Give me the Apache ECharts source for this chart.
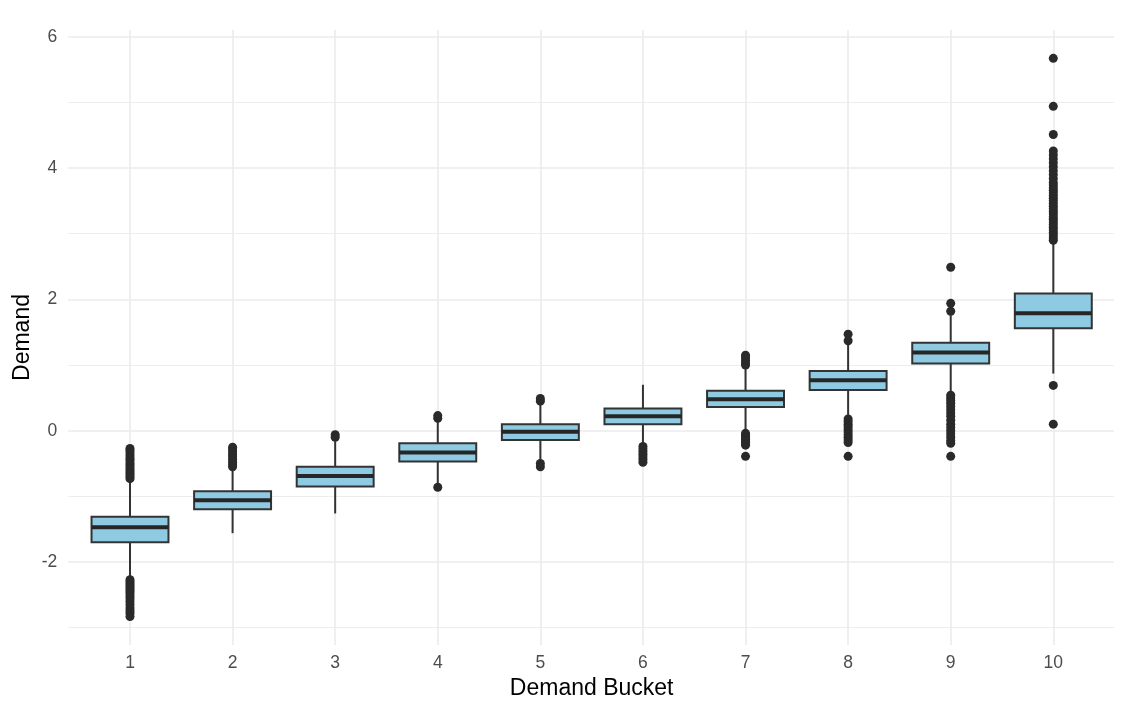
<!DOCTYPE html>
<html><head><meta charset="utf-8">
<script src="https://cdn.jsdelivr.net/npm/echarts@6.0.0/dist/echarts.min.js"></script>
<style>html,body{margin:0;padding:0;background:#fff}#c{width:1139px;height:718px}</style>
</head><body><div id="c"></div>
<script>
const categories = ['1', '2', '3', '4', '5', '6', '7', '8', '9', '10'];
const whiskerLow  = [-2.24, -1.56, -1.26, -0.80, -0.46, -0.21, -0.01, 0.20, 0.58, 0.87];
const q1Values    = [-1.70, -1.195, -0.85, -0.47, -0.14, 0.10, 0.36, 0.62, 1.025, 1.56];
const medians     = [-1.47, -1.06, -0.69, -0.33, -0.015, 0.22, 0.48, 0.77, 1.19, 1.79];
const q3Values    = [-1.31, -0.92, -0.55, -0.19, 0.10, 0.34, 0.61, 0.91, 1.34, 2.09];
const whiskerHigh = [-0.75, -0.58, -0.16, 0.14, 0.41, 0.70, 0.96, 1.32, 1.76, 2.86];
const outliers = [
  [-0.27, -0.30, -0.34, -0.38, -0.42, -0.45, -0.49, -0.52, -0.55, -0.58, -0.61, -0.64, -0.67, -0.70, -0.73,
   -2.27, -2.30, -2.33, -2.36, -2.39, -2.42, -2.45, -2.48, -2.52, -2.56, -2.60, -2.65, -2.70, -2.74, -2.78, -2.83],
  [-0.25, -0.28, -0.32, -0.36, -0.40, -0.44, -0.48, -0.52, -0.55],
  [-0.06, -0.10],
  [0.19, 0.23, -0.86],
  [0.45, 0.49, -0.50, -0.55],
  [-0.24, -0.28, -0.32, -0.36, -0.40, -0.44, -0.48],
  [1.00, 1.03, 1.07, 1.11, 1.15, -0.04, -0.07, -0.10, -0.13, -0.16, -0.19, -0.22, -0.39],
  [1.37, 1.47, 0.18, 0.14, 0.10, 0.06, 0.02, -0.02, -0.06, -0.10, -0.14, -0.18, -0.39],
  [1.82, 1.94, 2.49, 0.54, 0.50, 0.46, 0.42, 0.37, 0.32, 0.27, 0.22, 0.16, 0.10, 0.05, 0.00, -0.05, -0.10, -0.15, -0.19, -0.39],
  [2.90, 2.94, 2.98, 3.02, 3.06, 3.10, 3.14, 3.18, 3.22, 3.26, 3.30, 3.34, 3.38, 3.42, 3.46, 3.50, 3.54, 3.58,
   3.62, 3.66, 3.70, 3.74, 3.78, 3.84, 3.90, 3.96, 4.02, 4.08, 4.14, 4.20, 4.26, 4.51, 4.94, 5.67, 0.69, 0.10]
];

const boxData = categories.map((c, i) => [i, whiskerLow[i], q1Values[i], medians[i], q3Values[i], whiskerHigh[i]]);
const outlierData = [];
outliers.forEach((arr, i) => arr.forEach(v => outlierData.push([i, v])));

const FONT = '"Liberation Sans", Arial, Helvetica, sans-serif';
const INK = '#333333';
const FILL = '#8ecae2';
const GRID = '#ebebeb';

function renderBox(params, api) {
  const x = api.value(0);
  const pMin = api.coord([x, api.value(1)]);
  const pQ1 = api.coord([x, api.value(2)]);
  const pMed = api.coord([x, api.value(3)]);
  const pQ3 = api.coord([x, api.value(4)]);
  const pMax = api.coord([x, api.value(5)]);
  const bw = api.size([1, 0])[0] * 0.75;
  const cx = pMed[0];
  return {
    type: 'group',
    children: [
      { type: 'line', shape: { x1: cx, y1: pMax[1], x2: cx, y2: pQ3[1] }, style: { stroke: INK, lineWidth: 2 } },
      { type: 'line', shape: { x1: cx, y1: pQ1[1], x2: cx, y2: pMin[1] }, style: { stroke: INK, lineWidth: 2 } },
      { type: 'rect', shape: { x: cx - bw / 2, y: pQ3[1], width: bw, height: pQ1[1] - pQ3[1] },
        style: { fill: FILL, stroke: INK, lineWidth: 2 } },
      { type: 'line', shape: { x1: cx - bw / 2, y1: pMed[1], x2: cx + bw / 2, y2: pMed[1] },
        style: { stroke: '#262626', lineWidth: 4 } }
    ]
  };
}

const chart = echarts.init(document.getElementById('c'), null, { renderer: 'canvas' });
chart.setOption({
  animation: false,
  backgroundColor: '#ffffff',
  grid: [
    { left: 68.3, right: 25, top: 36.7, height: 656.7 },
    { left: 130, right: 1139 - 1053.3, top: 30, height: 615 }
  ],
  xAxis: [
    { gridIndex: 0, type: 'value', show: false, min: 0, max: 1 },
    { gridIndex: 1, type: 'category', data: categories, boundaryGap: false,
      axisLine: { show: false }, axisTick: { show: false },
      axisLabel: { interval: 0, margin: 9, color: '#4d4d4d', fontSize: 17.5, fontFamily: FONT },
      splitLine: { show: true, lineStyle: { color: GRID, width: 1.6 } },
      name: 'Demand Bucket', nameLocation: 'middle', nameGap: 32,
      nameTextStyle: { color: '#000', fontSize: 23, fontFamily: FONT } }
  ],
  yAxis: [
    { gridIndex: 0, type: 'value', min: -4, max: 6, interval: 2,
      axisLine: { show: false }, axisTick: { show: false },
      axisLabel: { showMinLabel: false, margin: 11, color: '#4d4d4d', fontSize: 17.5, fontFamily: FONT },
      splitLine: { show: true, showMinLine: false, lineStyle: { color: GRID, width: 1.6 } },
      minorTick: { show: false, splitNumber: 2 },
      minorSplitLine: { show: true, lineStyle: { color: GRID, width: 0.9 } } },
    { gridIndex: 1, type: 'value', min: -3.263, max: 6.102,
      axisLine: { show: false }, axisTick: { show: false },
      axisLabel: { show: false }, splitLine: { show: false },
      name: 'Demand', nameLocation: 'middle', nameGap: 96,
      nameTextStyle: { color: '#000', fontSize: 23, fontFamily: FONT } }
  ],
  series: [
    { type: 'custom', xAxisIndex: 1, yAxisIndex: 1, data: boxData, renderItem: renderBox,
      encode: { x: 0, y: [1, 2, 3, 4, 5] }, z: 2, clip: false },
    { type: 'scatter', xAxisIndex: 1, yAxisIndex: 1, data: outlierData, symbolSize: 9,
      itemStyle: { color: '#2a2a2a', opacity: 1 }, clip: false, z: 3 }
  ]
});
</script>
</body></html>
